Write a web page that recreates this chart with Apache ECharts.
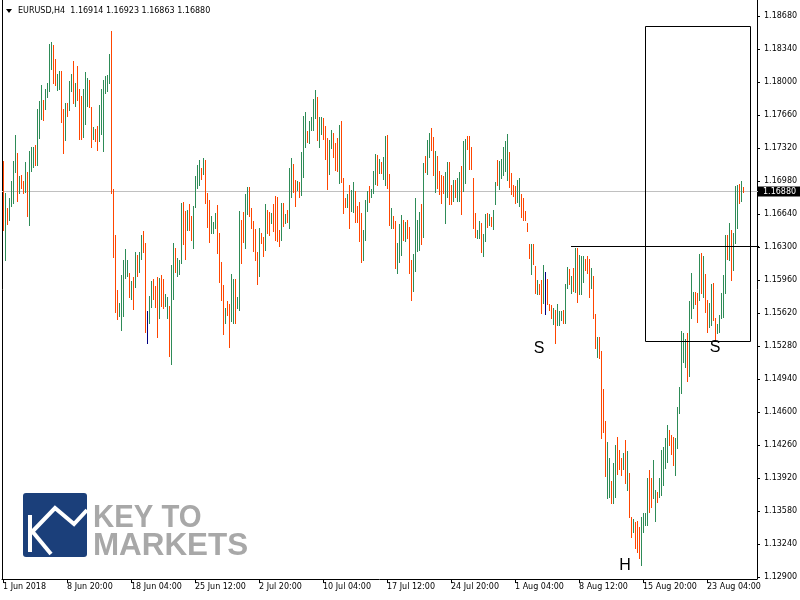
<!DOCTYPE html>
<html><head><meta charset="utf-8">
<script src="https://cdn.jsdelivr.net/npm/echarts@6/dist/echarts.min.js"></script>
<style>html,body{margin:0;padding:0;background:#fff}#c{width:800px;height:600px}</style>
</head><body><div id="c"></div>
<script>
const symbolName = 'EURUSD,H4';
const lastBarOHLC = [1.16914, 1.16923, 1.16863, 1.16880];
const bidPrice = 1.16880;
const dateTickLabels = ['1 Jun 2018','8 Jun 20:00','18 Jun 04:00','25 Jun 12:00','2 Jul 20:00','10 Jul 04:00','17 Jul 12:00','24 Jul 20:00','1 Aug 04:00','8 Aug 12:00','15 Aug 20:00','23 Aug 04:00'];
const dateTickBars = [0,32,64,96,128,160,192,224,256,288,320,352];
const priceTicks = [1.12900,1.13240,1.13580,1.13920,1.14260,1.14600,1.14940,1.15280,1.15620,1.15960,1.16300,1.16640,1.16980,1.17320,1.17660,1.18000,1.18340,1.18680];

const barHighs = [
1.1719,1.1686,1.1670,1.1680,1.1698,1.1719,1.1745,1.1727,1.1703,1.1704,
1.1698,1.1718,1.1707,1.1729,1.1733,1.1733,1.1735,1.1772,1.1780,1.1797,
1.1781,1.1793,1.1799,1.1839,1.1841,1.1838,1.1824,1.1808,1.1811,1.1811,
1.1772,1.1778,1.1778,1.1801,1.1808,1.1822,1.1799,1.1816,1.1793,1.1786,
1.1793,1.1810,1.1804,1.1802,1.1774,1.1754,1.1752,1.1755,1.1776,1.1793,
1.1802,1.1806,1.1807,1.1829,1.1853,1.1690,1.1642,1.1586,1.1572,1.1601,
1.1617,1.1628,1.1617,1.1603,1.1595,1.1599,1.1625,1.1622,1.1625,1.1642,
1.1646,1.1634,1.1564,1.1580,1.1595,1.1597,1.1590,1.1599,1.1598,1.1601,
1.1597,1.1582,1.1578,1.1569,1.1611,1.1634,1.1629,1.1619,1.1617,1.1675,
1.1676,1.1667,1.1668,1.1674,1.1662,1.1672,1.1703,1.1714,1.1720,1.1711,
1.1722,1.1720,1.1686,1.1678,1.1662,1.1656,1.1665,1.1673,1.1644,1.1615,
1.1591,1.1567,1.1574,1.1571,1.1602,1.1597,1.1597,1.1578,1.1667,1.1658,
1.1666,1.1685,1.1692,1.1692,1.1670,1.1657,1.1649,1.1625,1.1650,1.1644,
1.1640,1.1674,1.1668,1.1666,1.1665,1.1674,1.1683,1.1682,1.1648,1.1675,
1.1675,1.1664,1.1668,1.1711,1.1722,1.1716,1.1699,1.1698,1.1697,1.1728,
1.1765,1.1769,1.1749,1.1760,1.1764,1.1782,1.1792,1.1785,1.1764,1.1764,
1.1763,1.1755,1.1742,1.1740,1.1751,1.1747,1.1737,1.1742,1.1756,1.1760,
1.1701,1.1680,1.1685,1.1694,1.1689,1.1697,1.1688,1.1672,1.1676,1.1665,
1.1648,1.1678,1.1688,1.1693,1.1690,1.1708,1.1726,1.1725,1.1721,1.1718,
1.1723,1.1744,1.1745,1.1705,1.1670,1.1662,1.1657,1.1634,1.1654,1.1663,
1.1658,1.1656,1.1658,1.1651,1.1617,1.1623,1.1680,1.1658,1.1666,1.1674,
1.1717,1.1724,1.1740,1.1747,1.1753,1.1743,1.1729,1.1724,1.1708,1.1704,
1.1703,1.1707,1.1718,1.1718,1.1694,1.1699,1.1699,1.1701,1.1707,1.1713,
1.1739,1.1741,1.1744,1.1744,1.1733,1.1701,1.1665,1.1648,1.1657,1.1655,
1.1643,1.1664,1.1665,1.1664,1.1661,1.1668,1.1697,1.1720,1.1719,1.1721,
1.1733,1.1739,1.1746,1.1728,1.1706,1.1694,1.1693,1.1699,1.1701,1.1685,
1.1680,1.1667,1.1655,1.1633,1.1633,1.1633,1.1610,1.1596,1.1592,1.1596,
1.1611,1.1604,1.1597,1.1571,1.1570,1.1567,1.1565,1.1571,1.1564,1.1564,
1.1565,1.1592,1.1609,1.1607,1.1600,1.1608,1.1629,1.1629,1.1622,1.1621,
1.1621,1.1618,1.1621,1.1618,1.1608,1.1600,1.1561,1.1537,1.1537,1.1523,
1.1484,1.1451,1.1429,1.1413,1.1389,1.1407,1.1426,1.1434,1.1421,1.1413,
1.1418,1.1431,1.1420,1.1397,1.1352,1.1350,1.1347,1.1348,1.1342,1.1352,
1.1356,1.1356,1.1392,1.1400,1.1392,1.1411,1.1380,1.1378,1.1392,1.1421,
1.1424,1.1433,1.1447,1.1441,1.1436,1.1434,1.1433,1.1465,1.1486,1.1543,
1.1541,1.1535,1.1541,1.1574,1.1603,1.1584,1.1584,1.1583,1.1623,1.1624,
1.1621,1.1602,1.1575,1.1572,1.1592,1.1593,1.1557,1.1551,1.1560,1.1583,
1.1601,1.1642,1.1642,1.1655,1.1647,1.1644,1.1693,1.1694,1.1695,1.1698,
1.16923];

const barLows = [
1.1648,1.1617,1.1654,1.1658,1.1672,1.1675,1.1707,1.1677,1.1686,1.1691,
1.1686,1.1687,1.1662,1.1653,1.1708,1.1712,1.1714,1.1714,1.1742,1.1762,
1.1761,1.1772,1.1785,1.1791,1.1813,1.1799,1.1797,1.1792,1.1793,1.1759,
1.1727,1.1740,1.1765,1.1771,1.1791,1.1778,1.1775,1.1781,1.1741,1.1741,
1.1743,1.1757,1.1775,1.1774,1.1733,1.1741,1.1739,1.1730,1.1739,1.1746,
1.1729,1.1789,1.1791,1.1799,1.1686,1.1620,1.1563,1.1556,1.1559,1.1544,
1.1559,1.1598,1.1600,1.1578,1.1576,1.1566,1.1589,1.1600,1.1604,1.1618,
1.1625,1.1542,1.1531,1.1552,1.1568,1.1576,1.1568,1.1537,1.1557,1.1569,
1.1567,1.1569,1.1557,1.1518,1.1509,1.1576,1.1604,1.1600,1.1602,1.1614,
1.1633,1.1618,1.1648,1.1647,1.1637,1.1629,1.1671,1.1691,1.1694,1.1700,
1.1705,1.1675,1.1651,1.1635,1.1644,1.1644,1.1650,1.1624,1.1594,1.1575,
1.1540,1.1552,1.1560,1.1527,1.1554,1.1552,1.1552,1.1567,1.1565,1.1614,
1.1635,1.1629,1.1664,1.1662,1.1650,1.1626,1.1617,1.1592,1.1600,1.1634,
1.1621,1.1627,1.1644,1.1642,1.1655,1.1646,1.1637,1.1636,1.1631,1.1637,
1.1652,1.1655,1.1656,1.1650,1.1682,1.1687,1.1672,1.1689,1.1681,1.1684,
1.1702,1.1733,1.1738,1.1737,1.1751,1.1751,1.1763,1.1740,1.1733,1.1746,
1.1741,1.1721,1.1690,1.1705,1.1732,1.1723,1.1709,1.1708,1.1696,1.1697,
1.1665,1.1671,1.1671,1.1650,1.1667,1.1666,1.1656,1.1656,1.1636,1.1615,
1.1617,1.1637,1.1667,1.1676,1.1681,1.1686,1.1695,1.1694,1.1706,1.1706,
1.1700,1.1694,1.1691,1.1653,1.1650,1.1650,1.1608,1.1603,1.1615,1.1622,
1.1637,1.1636,1.1639,1.1603,1.1575,1.1585,1.1605,1.1626,1.1627,1.1633,
1.1640,1.1707,1.1705,1.1723,1.1730,1.1704,1.1687,1.1691,1.1685,1.1675,
1.1686,1.1655,1.1681,1.1674,1.1674,1.1677,1.1681,1.1677,1.1677,1.1664,
1.1688,1.1696,1.1731,1.1710,1.1710,1.1650,1.1640,1.1639,1.1639,1.1625,
1.1621,1.1636,1.1651,1.1653,1.1652,1.1649,1.1674,1.1694,1.1690,1.1701,
1.1704,1.1708,1.1699,1.1692,1.1685,1.1683,1.1675,1.1676,1.1672,1.1661,
1.1658,1.1658,1.1646,1.1619,1.1602,1.1612,1.1583,1.1582,1.1582,1.1562,
1.1572,1.1561,1.1571,1.1565,1.1557,1.1551,1.1531,1.1550,1.1550,1.1555,
1.1552,1.1552,1.1588,1.1592,1.1583,1.1585,1.1584,1.1573,1.1582,1.1582,
1.1594,1.1606,1.1603,1.1578,1.1588,1.1557,1.1526,1.1517,1.1516,1.1433,
1.1439,1.1394,1.1371,1.1372,1.1366,1.1366,1.1372,1.1396,1.1401,1.1395,
1.1401,1.1387,1.1380,1.1352,1.1331,1.1336,1.1320,1.1316,1.1310,1.1302,
1.1336,1.1344,1.1344,1.1357,1.1362,1.1371,1.1348,1.1367,1.1372,1.1374,
1.1385,1.1402,1.1408,1.1426,1.1417,1.1405,1.1395,1.1423,1.1459,1.1480,
1.1511,1.1506,1.1492,1.1497,1.1557,1.1567,1.1571,1.1553,1.1575,1.1583,
1.1578,1.1563,1.1542,1.1548,1.1550,1.1555,1.1534,1.1541,1.1542,1.1557,
1.1558,1.1583,1.1618,1.1617,1.1596,1.1606,1.1634,1.1650,1.1675,1.1677,
1.16863];

// u = close above open, d = close below open, n = unchanged
const barDirections =
'duduuuudud' + 'duduuuduuu' + 'duuuudduud' + 'duduududdd' + 'uuuddudduu' +
'uuuudddduu' + 'uuudududuu' + 'ddnuudddud' + 'duuduuduuu' + 'ddudduuuud' +
'uddduuuddd' + 'dudduuduud' + 'duudddddud' + 'dudduddddu' + 'duduuddudu' +
'uuduuuuduu' + 'ddduudddud' + 'dduduudddd' + 'uuuduuudud' + 'uuddudduuu' +
'duddduuuud' + 'uduudduddd' + 'duudduduud' + 'uuddddduud' + 'uududuuduu' +
'uuudddduud' + 'dddduddudd' + 'unddduduuu' + 'duudududuu' + 'uddduddudd' +
'dduuduuddd' + 'ududdudddu' + 'uuudduuduu' + 'uuuddduuuu' + 'uuduuuddud' +
'udduudduuu' + 'uududuuudu' + 'd';

const trendLine = { startBar: 284, price: 1.1631 };
const boxArea = { fromBar: 321.25, toBar: 373.75, top: 1.1858, bottom: 1.1533 };
const annotations = [
  { text: 'S', bar: 268, price: 1.1525 },
  { text: 'S', bar: 356, price: 1.1526 },
  { text: 'H', bar: 311, price: 1.1302 }
];

const UP = '#2e8b57', DOWN = '#ff4500', FLAT = '#000080';
const AXIS_FONT = '"DejaVu Sans"';

const barData = barHighs.map((h, i) => {
  const c = barDirections[i];
  return [i, h, barLows[i], c === 'u' ? 1 : (c === 'd' ? -1 : 0)];
});

const chart = echarts.init(document.getElementById('c'), null, { renderer: 'canvas' });
chart.setOption({
  animation: false,
  backgroundColor: '#ffffff',
  grid: { left: 2, right: 43, top: 0, bottom: 21, outerBoundsMode: 'none', containLabel: false },
  xAxis: {
    type: 'value', min: -0.5, max: 377,
    axisLine: { show: true, onZero: false, lineStyle: { color: '#000', width: 1 } },
    axisTick: { show: true, customValues: dateTickBars, length: 4, lineStyle: { color: '#000' } },
    axisLabel: {
      customValues: dateTickBars,
      formatter: v => dateTickLabels[dateTickBars.indexOf(Math.round(v))],
      align: 'left', margin: 4, color: '#000', fontFamily: AXIS_FONT, fontSize: 8
    },
    splitLine: { show: false }
  },
  yAxis: {
    type: 'value', position: 'right', min: 1.128794, max: 1.188448,
    axisLine: { show: true, onZero: false, lineStyle: { color: '#000', width: 1 } },
    axisTick: { show: true, customValues: priceTicks, length: 3, lineStyle: { color: '#000' } },
    axisLabel: {
      customValues: priceTicks,
      formatter: v => v.toFixed(5),
      margin: 7, color: '#000', fontFamily: AXIS_FONT, fontSize: 8
    },
    splitLine: { show: false }
  },
  series: [
    {
      type: 'custom', silent: true, clip: false, z: 1,
      data: [[0, bidPrice]],
      renderItem: (params, api) => {
        const cs = params.coordSys;
        const y = Math.round(api.coord([0, api.value(1)])[1]) + 0.5;
        return { type: 'group', children: [
          { type: 'line', shape: { x1: cs.x, y1: y, x2: cs.x + cs.width + 1, y2: y }, style: { stroke: '#c0c0c0', lineWidth: 1 } },
          { type: 'rect', shape: { x: cs.x + cs.width + 1, y: y - 5, width: 43, height: 10 }, style: { fill: '#000' } },
          { type: 'text', style: { x: cs.x + cs.width + 6, y: y, text: bidPrice.toFixed(5), fill: '#fff', font: '8px ' + AXIS_FONT, verticalAlign: 'middle' } }
        ] };
      }
    },
    {
      type: 'custom', silent: true, z: 2,
      data: barData,
      renderItem: (params, api) => {
        const i = api.value(0);
        const p1 = api.coord([i, api.value(1)]);
        const p2 = api.coord([i, api.value(2)]);
        const d = api.value(3);
        const x = Math.round(p1[0]);
        const y1 = Math.round(p1[1]), y2 = Math.round(p2[1]);
        return { type: 'rect', shape: { x: x, y: y1, width: 1, height: Math.max(1, y2 - y1 + 1) },
                 style: { fill: d > 0 ? UP : (d < 0 ? DOWN : FLAT) } };
      }
    },
    {
      type: 'custom', silent: true, clip: false, z: 3,
      data: [[trendLine.startBar, trendLine.price]],
      renderItem: (params, api) => {
        const cs = params.coordSys;
        const p = api.coord([api.value(0), api.value(1)]);
        const y = Math.round(p[1]) + 0.5;
        return { type: 'line', shape: { x1: Math.round(p[0]), y1: y, x2: cs.x + cs.width + 2, y2: y }, style: { stroke: '#000', lineWidth: 1 } };
      }
    },
    {
      type: 'custom', silent: true, clip: false, z: 3,
      data: [[boxArea.fromBar, boxArea.top, boxArea.toBar, boxArea.bottom]],
      renderItem: (params, api) => {
        const a = api.coord([api.value(0), api.value(1)]);
        const b = api.coord([api.value(2), api.value(3)]);
        const x1 = Math.floor(a[0]) + 0.5, x2 = Math.floor(b[0]) + 0.5;
        const y1 = Math.round(a[1]) + 0.5, y2 = Math.round(b[1]) + 0.5;
        return { type: 'rect', shape: { x: x1, y: y1, width: x2 - x1, height: y2 - y1 }, style: { stroke: '#000', fill: null, lineWidth: 1 } };
      }
    },
    {
      type: 'custom', silent: true, clip: false, z: 4,
      data: annotations.map(a => [a.bar, a.price, a.text]),
      dimensions: ['x', 'y', { name: 't', type: 'ordinal' }],
      renderItem: (params, api) => {
        const p = api.coord([api.value(0), api.value(1)]);
        return { type: 'text', style: { x: p[0], y: p[1], text: annotations[params.dataIndex].text, fill: '#000',
                 font: '16px "Liberation Sans"', align: 'center', verticalAlign: 'middle' } };
      }
    }
  ],
  graphic: [
    { type: 'line', shape: { x1: 2.5, y1: 0, x2: 2.5, y2: 579 }, style: { stroke: '#000', lineWidth: 1 }, silent: true },
    { type: 'polygon', shape: { points: [[6, 9], [12, 9], [9, 13]] }, style: { fill: '#000' }, silent: true },
    { type: 'text', x: 18, y: 11, style: { text: symbolName + '  ' + lastBarOHLC.map(v => v.toFixed(5)).join(' '), fill: '#000', font: '8px ' + AXIS_FONT, verticalAlign: 'middle' }, silent: true },
    // logo
    { type: 'rect', shape: { x: 23, y: 493, width: 64, height: 64, r: 3 }, style: { fill: '#1b3f7a' }, silent: true },
    { type: 'rect', shape: { x: 28, y: 515, width: 4, height: 37 }, style: { fill: '#fff' }, silent: true },
    { type: 'polyline', shape: { points: [[31, 533], [55, 508], [74, 524], [87, 510]] }, style: { stroke: '#fff', lineWidth: 4, fill: null, lineJoin: 'miter' }, silent: true },
    { type: 'line', shape: { x1: 32, y1: 531, x2: 51, y2: 554 }, style: { stroke: '#fff', lineWidth: 4 }, silent: true },
    { type: 'text', x: 93, y: 518, scaleX: 0.916, style: { text: 'KEY TO', fill: '#a8a8a8', font: 'bold 32px "Liberation Sans"', verticalAlign: 'middle' }, silent: true },
    { type: 'text', x: 93, y: 546, scaleX: 0.98, style: { text: 'MARKETS', fill: '#a8a8a8', font: 'bold 32px "Liberation Sans"', verticalAlign: 'middle' }, silent: true }
  ]
});
</script>
</body></html>
